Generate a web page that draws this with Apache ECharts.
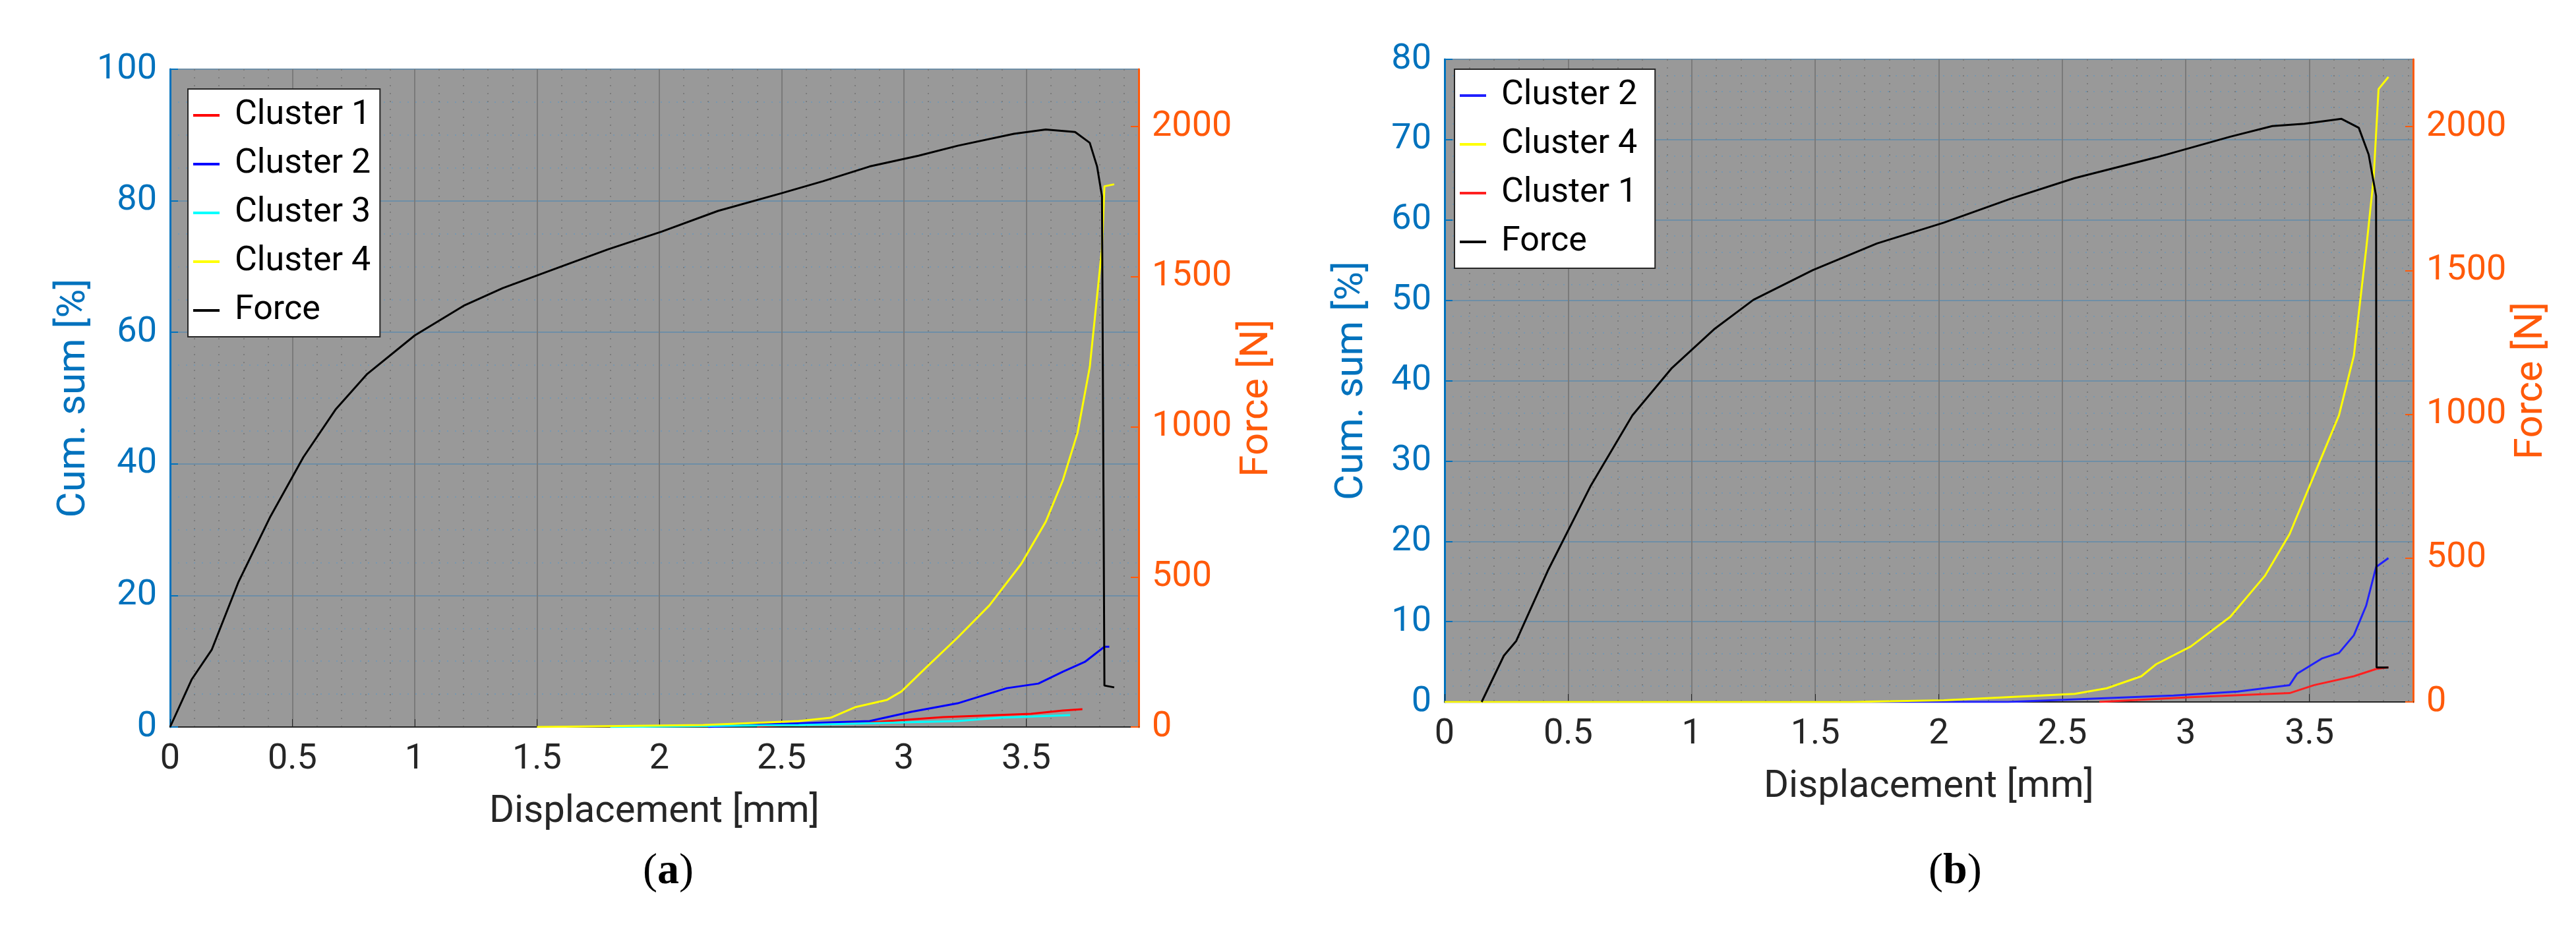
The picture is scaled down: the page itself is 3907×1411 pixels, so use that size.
<!DOCTYPE html>
<html><head><meta charset="utf-8">
<script src="https://cdn.jsdelivr.net/npm/echarts@6/dist/echarts.min.js"></script>
<style>html,body{margin:0;background:#fff}#c{width:3907px;height:1411px}</style>
</head><body><div id="c"></div>
<script>
// ---- data (a) ----
const aForce = [[0,0],[0.088,158],[0.17,257],[0.28,484],[0.41,701],[0.545,899],[0.676,1057],[0.806,1176],[1.0,1304],[1.2,1403],[1.36,1462],[1.59,1531],[1.79,1591],[2.01,1650],[2.24,1719],[2.5,1778],[2.67,1818],[2.86,1867],[3.06,1903],[3.22,1936],[3.45,1976],[3.58,1990],[3.70,1982],[3.76,1946],[3.79,1867],[3.81,1768],[3.817,642],[3.82,138],[3.86,132]];
const aC1 = [[2.4,0.1],[2.9,0.8],[3.16,1.5],[3.52,2.0],[3.65,2.5],[3.73,2.7]];
const aC2 = [[2.2,0],[2.37,0.3],[2.86,0.9],[3.03,2.3],[3.22,3.6],[3.42,5.9],[3.55,6.6],[3.65,8.4],[3.74,9.9],[3.82,12.2],[3.84,12.2]];
const aC3 = [[1.8,0],[2.57,0.3],[3.22,0.9],[3.39,1.4],[3.68,1.8]];
const aC4 = [[1.5,0],[2.18,0.3],[2.57,0.9],[2.7,1.4],[2.8,3.0],[2.93,4.1],[2.99,5.4],[3.09,9.0],[3.22,13.6],[3.35,18.5],[3.48,24.8],[3.58,31.2],[3.65,37.5],[3.71,44.7],[3.76,54.7],[3.79,65.5],[3.81,72.7],[3.82,82.2],[3.86,82.5]];
// ---- data (b) ----
const bForce = [[0.15,0],[0.24,161],[0.29,212],[0.42,460],[0.59,749],[0.76,996],[0.92,1161],[1.09,1295],[1.25,1398],[1.49,1501],[1.75,1594],[2.02,1666],[2.29,1749],[2.55,1821],[2.88,1893],[3.18,1965],[3.35,2002],[3.48,2010],[3.63,2027],[3.70,1996],[3.74,1903],[3.77,1759],[3.772,120],[3.82,120]];
const bC2 = [[0,0],[2.28,0],[2.95,0.8],[3.21,1.3],[3.42,2.1],[3.45,3.5],[3.55,5.4],[3.62,6.1],[3.68,8.3],[3.73,12.0],[3.77,16.8],[3.82,17.9]];
const bC4 = [[0,0],[1.65,0],[2.02,0.2],[2.55,1.0],[2.68,1.7],[2.82,3.2],[2.88,4.7],[3.02,6.9],[3.18,10.6],[3.32,15.7],[3.42,20.9],[3.52,28.3],[3.62,35.7],[3.68,43.1],[3.73,56.4],[3.76,65.2],[3.78,76.3],[3.82,77.8]];
const bC1 = [[2.65,0],[3.02,0.6],[3.42,1.1],[3.52,2.1],[3.68,3.2],[3.77,4.1],[3.82,4.3]];

const BLUE='#0072BD', ORANGE='#FF5A0A';
const F = 'Roboto, "Liberation Sans", sans-serif';
const tickLbl = {fontSize:54, fontFamily:F};
function xAx(i,max){return {type:'value',gridIndex:i,min:0,max:max,interval:0.5,
  axisLine:{lineStyle:{color:'#262626',width:2}},axisTick:{inside:true,length:12,lineStyle:{color:'#262626'}},
  axisLabel:Object.assign({color:'#262626',margin:22,showMaxLabel:false,formatter:v=>String(v)},tickLbl),
  name:'Displacement [mm]',nameLocation:'middle',nameGap:100,nameTextStyle:{fontSize:58,color:'#262626',fontFamily:F},
  splitLine:{show:true,lineStyle:{color:'#7a7a7a',width:2}},
  minorTick:{show:false,splitNumber:5},minorSplitLine:{show:true,lineStyle:{color:'#7c7c7c',type:[2,10],width:2}}};}
function yL(i,max,iv,minorN){return {type:'value',gridIndex:i,min:0,max:max,interval:iv,position:'left',
  axisLine:{show:true,lineStyle:{color:BLUE,width:3}},axisTick:{show:true,inside:true,length:12,lineStyle:{color:BLUE,width:2}},
  axisLabel:Object.assign({color:BLUE,margin:20,formatter:v=>String(v)},tickLbl),
  name:'Cum. sum [%]',nameLocation:'middle',nameGap:110,nameTextStyle:{fontSize:60,color:BLUE,fontFamily:F},
  splitLine:{show:true,lineStyle:{color:'#6e8ea6',width:2}},
  minorTick:{show:false,splitNumber:minorN},minorSplitLine:{show:true,lineStyle:{color:'#7898b0',type:[2,10],width:2}}};}
function yR(i,max){return {type:'value',gridIndex:i,min:0,max:max,interval:500,position:'right',
  axisLine:{show:true,lineStyle:{color:ORANGE,width:3}},axisTick:{show:true,inside:true,length:12,lineStyle:{color:ORANGE,width:2}},
  axisLabel:Object.assign({color:ORANGE,margin:20,showMaxLabel:false,formatter:v=>String(v)},tickLbl),
  name:'Force [N]',nameLocation:'middle',nameGap:150,nameRotate:90,nameTextStyle:{fontSize:60,color:ORANGE,fontFamily:F},
  splitLine:{show:false}};}
function ser(name,data,color,xi,yi){return {name:name,type:'line',data:data,xAxisIndex:xi,yAxisIndex:yi,
  showSymbol:false,symbol:'none',lineStyle:{color:color,width:3},itemStyle:{color:color},animation:false,z:5};}
function leg(names,left,top){return {data:names.map(n=>({name:n,icon:'path://M0,0 L10,0 L10,1 L0,1 Z'})),
  orient:'vertical',left:left,top:top,padding:[14,14,14,8],itemGap:22,itemWidth:72,itemHeight:4,
  backgroundColor:'#fff',borderColor:'#262626',borderWidth:2,
  textStyle:{fontSize:52,color:'#000',fontFamily:F,padding:[0,0,0,2]},selectedMode:false};}

const chart = echarts.init(document.getElementById('c'),null,{renderer:'canvas'});
chart.setOption({
  animation:false,
  grid:[{left:258,top:105,width:1469,height:998,show:true,backgroundColor:'#999999',borderColor:'#262626',borderWidth:2},
        {left:2191,top:90,width:1469,height:975,show:true,backgroundColor:'#999999',borderColor:'#262626',borderWidth:2}],
  xAxis:[xAx(0,3.96),xAx(1,3.92)],
  yAxis:[yL(0,100,20,4),yR(0,2191),yL(1,80,10,5),yR(1,2234)],
  legend:[leg(['Cluster 1','Cluster 2','Cluster 3','Cluster 4','Force'],285,135),
          leg(['Cluster 2 ','Cluster 4 ','Cluster 1 ','Force '],2206,105)],
  series:[
    ser('Cluster 1',aC1,'#ff0000',0,0),ser('Cluster 2',aC2,'#0000ff',0,0),ser('Cluster 3',aC3,'#00ffff',0,0),
    ser('Cluster 4',aC4,'#ffff00',0,0),ser('Force',aForce,'#000000',0,1),
    ser('Cluster 2 ',bC2,'#2020ff',1,2),ser('Cluster 4 ',bC4,'#ffff00',1,2),ser('Cluster 1 ',bC1,'#ff2020',1,2),
    ser('Force ',bForce,'#000000',1,3)
  ],
  graphic:[
    {type:'text',left:975,top:1290,style:{text:'({b|a})',fontSize:66,fontFamily:'"Liberation Serif", serif',fill:'#000',rich:{b:{fontWeight:'bold',fontSize:66,fontFamily:'"Liberation Serif", serif'}}}},
    {type:'text',left:2925,top:1290,style:{text:'({b|b})',fontSize:66,fontFamily:'"Liberation Serif", serif',fill:'#000',rich:{b:{fontWeight:'bold',fontSize:66,fontFamily:'"Liberation Serif", serif'}}}}
  ]
});
</script></body></html>
